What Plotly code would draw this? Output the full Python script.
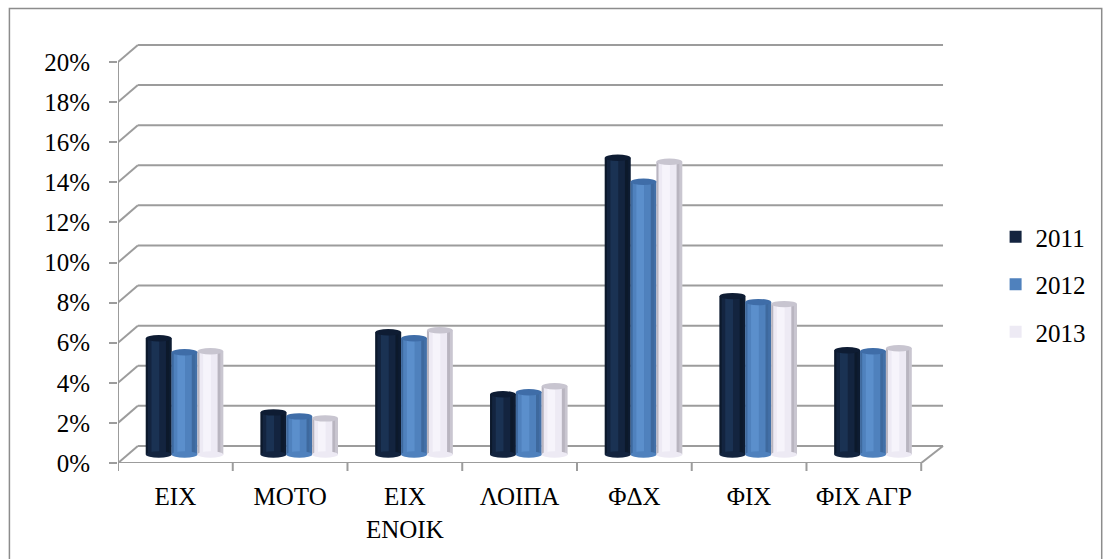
import plotly.graph_objects as go

# Category labels (front axis) and yearly shares in percent
categories = ["ΕΙΧ", "ΜΟΤΟ", "ΕΙΧ<br>ΕΝΟΙΚ", "ΛΟΙΠΑ", "ΦΔΧ", "ΦΙΧ", "ΦΙΧ ΑΓΡ"]
years = ["2011", "2012", "2013"]
values_2011 = [5.8, 2.1, 6.1, 3.0, 14.8, 7.9, 5.2]
values_2012 = [5.1, 1.9, 5.8, 3.1, 13.6, 7.6, 5.15]
values_2013 = [5.15, 1.8, 6.2, 3.4, 14.6, 7.5, 5.3]
y_ticks = [0, 2, 4, 6, 8, 10, 12, 14, 16, 18, 20]
y_tick_labels = [f"{v}%" for v in y_ticks]

series = [values_2011, values_2012, values_2013]

# cylinder palette: body, highlight, shadow edge, top cap
palette = [
    dict(body="#13243F", hi="#1D3659", edge="#0B1627", cap="#0E1C33"),
    dict(body="#4F81BD", hi="#5E92D0", edge="#3A6396", cap="#3F6DA8"),
    dict(body="#EDEAF4", hi="#F8F6FC", edge="#ABA8B3", cap="#C8C5D0"),
]

FONT = "'Liberation Serif', 'Times New Roman', Times, serif"
GRID = "#9C9C9C"

# pseudo-3D depth of the plotting box, in axis units
DX = 0.19    # category units
DY = 0.85    # percentage points

n = len(categories)
x_idx = list(range(n))
BAR_W = 0.225
GROUP_START = 0.08 - 1.5 * BAR_W   # left edge of the group, mid-depth
BASE = DY / 2

fig = go.Figure()

for k, (vals, name, pal) in enumerate(zip(series, years, palette)):
    left = GROUP_START + k * BAR_W
    fig.add_trace(go.Bar(
        x=x_idx, y=vals, base=BASE, name=name,
        offset=left, width=BAR_W,
        marker=dict(color=pal["body"], line=dict(width=0)),
        legendgroup=name, showlegend=True, hoverinfo="skip",
    ))
    # shading strips giving the cylinder look
    strips = [
        (0.0, 0.08, pal["edge"]),
        (0.22, 0.30, pal["hi"]),
        (0.78, 0.12, pal["edge"]),
        (0.90, 0.10, pal["edge"]),
    ]
    for start, frac, col in strips:
        fig.add_trace(go.Bar(
            x=x_idx, y=vals, base=BASE,
            offset=left + start * BAR_W, width=frac * BAR_W,
            marker=dict(color=col, line=dict(width=0), opacity=0.55 if start > 0.85 else 0.8),
            showlegend=False, hoverinfo="skip", legendgroup=name,
        ))

shapes = []

# back wall gridlines with the side-wall connectors
for v in y_ticks:
    shapes.append(dict(type="line", xref="x", yref="y", layer="below",
                       x0=-0.5, y0=v, x1=-0.5 + 0.173, y1=v + DY,
                       line=dict(color=GRID, width=2)))
    shapes.append(dict(type="line", xref="x", yref="y", layer="below",
                       x0=-0.5 + 0.173, y0=v + DY, x1=n - 0.5 + DX, y1=v + DY,
                       line=dict(color=GRID, width=2)))

# floor front edge and right edge, value axis line
shapes.append(dict(type="line", xref="x", yref="y", layer="below",
                   x0=-0.5, y0=0, x1=n - 0.5, y1=0, line=dict(color=GRID, width=2)))
shapes.append(dict(type="line", xref="x", yref="y", layer="below",
                   x0=n - 0.5, y0=0, x1=n - 0.5 + DX, y1=DY, line=dict(color=GRID, width=2)))
shapes.append(dict(type="line", xref="x", yref="y", layer="below",
                   x0=-0.5, y0=0, x1=-0.5, y1=y_ticks[-1], line=dict(color=GRID, width=2)))

# elliptical bottoms and tops of the cylinders
CAP_H = 0.32
for k, (vals, pal) in enumerate(zip(series, palette)):
    left = GROUP_START + k * BAR_W
    for i, v in enumerate(vals):
        shapes.append(dict(type="circle", xref="x", yref="y", layer="above",
                           x0=i + left, x1=i + left + BAR_W,
                           y0=BASE - CAP_H / 2, y1=BASE + CAP_H / 2,
                           fillcolor=pal["body"], line=dict(width=0)))
        shapes.append(dict(type="circle", xref="x", yref="y", layer="above",
                           x0=i + left, x1=i + left + BAR_W,
                           y0=BASE + v - CAP_H / 2, y1=BASE + v + CAP_H / 2,
                           fillcolor=pal["cap"], line=dict(width=0)))

# outer chart border
L, R, T, B = 118, 148, 40, 96
PW, PH = 1103 - L - R, 559 - T - B
def px_x(p):
    return (p - L) / PW
def px_y(p):
    return (559 - B - p) / PH
shapes.append(dict(type="rect", xref="paper", yref="paper", layer="above",
                   x0=px_x(8.5), x1=px_x(1110), y0=px_y(8.5), y1=px_y(570),
                   line=dict(color="#8C8C8C", width=1.5), fillcolor="rgba(0,0,0,0)"))

y_top = PH / 20.05

fig.update_layout(
    width=1103, height=559,
    margin=dict(l=L, r=R, t=T, b=B, pad=0),
    paper_bgcolor="white", plot_bgcolor="white",
    barmode="overlay",
    font=dict(family=FONT, size=25, color="#000000"),
    shapes=shapes,
    showlegend=True,
    legend=dict(
        x=px_x(1003), y=px_y(214), xanchor="left", yanchor="top",
        font=dict(family=FONT, size=25, color="#000000"),
        tracegroupgap=12, bgcolor="rgba(0,0,0,0)",
    ),
    xaxis=dict(
        type="linear", range=[-0.5, n - 0.5 + (955 - 928) / 115.7],
        tickmode="array", tickvals=x_idx, ticktext=categories,
        showgrid=False, zeroline=False, showline=False,
        ticks="", tickfont=dict(family=FONT, size=25),
        ticklabelstandoff=16,
    ),
    yaxis=dict(
        range=[0, y_top],
        tickmode="array", tickvals=y_ticks, ticktext=y_tick_labels,
        showgrid=False, zeroline=False, showline=False,
        ticks="outside", ticklen=8, tickwidth=2, tickcolor=GRID,
        tickfont=dict(family=FONT, size=25),
        ticklabelstandoff=14,
    ),
)

# category boundary ticks on the floor front edge
for b in [i - 0.5 for i in range(n + 1)]:
    fig.add_shape(type="line", xref="x", yref="paper", layer="below",
                  x0=b, x1=b, y0=0, y1=-8 / PH, line=dict(color=GRID, width=2))

fig.write_html("out.html")
